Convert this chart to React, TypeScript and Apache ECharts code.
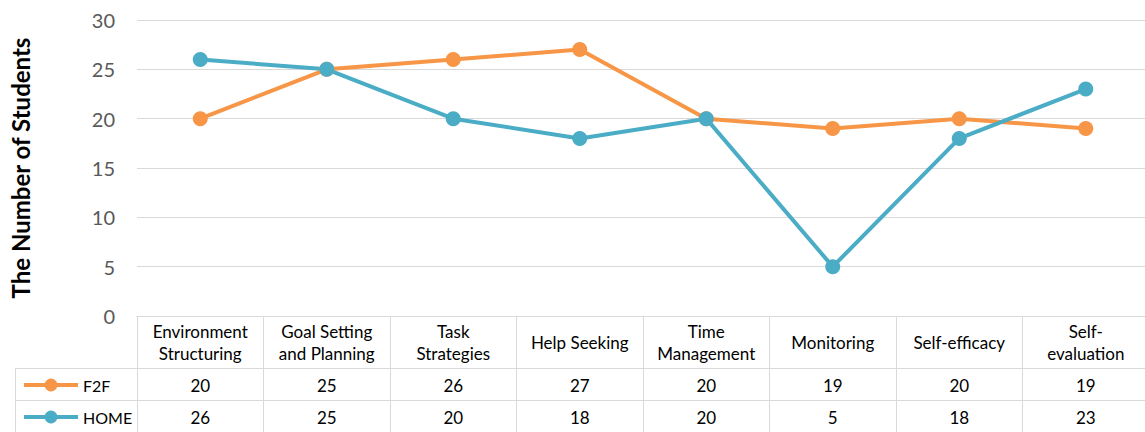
import React, { useEffect, useRef } from "react";
import * as echarts from "echarts";

const categories = [
  "Environment\nStructuring",
  "Goal Setting\nand Planning",
  "Task\nStrategies",
  "Help Seeking",
  "Time\nManagement",
  "Monitoring",
  "Self-efficacy",
  "Self-\nevaluation",
];
const f2f = [20, 25, 26, 27, 20, 19, 20, 19];
const home = [26, 25, 20, 18, 20, 5, 18, 23];
const yTicks = { min: 0, max: 30, interval: 5 };

const ORANGE = "#F79646";
const BLUE = "#4BACC6";
const BORDER = "#D9D9D9";
const FONT = "Lato, 'Open Sans', sans-serif";

export default function App() {
  const ref = useRef<HTMLDivElement>(null);
  useEffect(() => {
    if (!ref.current) return;
    const chart = echarts.init(ref.current, null, { renderer: "svg" });
    const gridLeft = 137;
    const gridTop = 20;
    const gridHeight = 296;
    const colW = 126.5;
    const gridWidth = colW * categories.length;
    const base = {
      type: "category" as const,
      data: categories,
      boundaryGap: true,
      position: "bottom" as const,
      gridIndex: 0,
    };
    chart.setOption({
      animation: false,
      textStyle: { fontFamily: FONT },
      grid: {
        left: gridLeft,
        top: gridTop,
        width: gridWidth,
        height: gridHeight,
        containLabel: false,
        outerBoundsMode: "none",
      },
      legend: {
        orient: "vertical",
        left: 22,
        top: 377,
        padding: 0,
        itemWidth: 54,
        itemHeight: 16,
        itemGap: 16,
        lineStyle: { width: 4 },
        textStyle: { fontSize: 16, color: "#000", fontFamily: FONT },
        data: ["F2F", "HOME"],
      },
      xAxis: [
        {
          ...base,
          axisLine: { show: true, lineStyle: { color: BORDER } },
          axisTick: { show: true, length: 116, lineStyle: { color: BORDER } },
          axisLabel: {
            interval: 0,
            margin: 26,
            verticalAlign: "middle",
            fontSize: 17,
            lineHeight: 22,
            color: "#000",
            fontFamily: FONT,
          },
        },
        {
          ...base,
          axisLine: { show: false },
          axisTick: { show: false },
          axisLabel: {
            interval: 0,
            margin: 69,
            verticalAlign: "middle",
            fontSize: 17,
            color: "#000",
            fontFamily: FONT,
            formatter: (_v: string, i: number) => String(f2f[i]),
          },
        },
        {
          ...base,
          axisLine: { show: false },
          axisTick: { show: false },
          axisLabel: {
            interval: 0,
            margin: 101,
            verticalAlign: "middle",
            fontSize: 17,
            color: "#000",
            fontFamily: FONT,
            formatter: (_v: string, i: number) => String(home[i]),
          },
        },
      ],
      yAxis: {
        type: "value",
        min: yTicks.min,
        max: yTicks.max,
        interval: yTicks.interval,
        axisLine: { show: false },
        axisTick: { show: false },
        splitLine: { lineStyle: { color: BORDER, width: 1 } },
        axisLabel: { fontSize: 20, color: "#595959", margin: 22, fontFamily: FONT },
        name: "The Number of Students",
        nameLocation: "middle",
        nameGap: 105,
        nameTextStyle: { fontSize: 24, fontWeight: "bold", color: "#000", fontFamily: FONT },
      },
      series: [
        {
          name: "F2F",
          type: "line",
          data: f2f,
          color: ORANGE,
          symbol: "circle",
          symbolSize: 15,
          lineStyle: { width: 4, color: ORANGE },
          itemStyle: { color: ORANGE },
        },
        {
          name: "HOME",
          type: "line",
          data: home,
          color: BLUE,
          symbol: "circle",
          symbolSize: 15,
          lineStyle: { width: 4, color: BLUE },
          itemStyle: { color: BLUE },
        },
      ],
      graphic: [
        { type: "line", shape: { x1: 15, y1: 368.5, x2: 1145, y2: 368.5 }, style: { stroke: BORDER, lineWidth: 1 } },
        { type: "line", shape: { x1: 15, y1: 400.5, x2: 1145, y2: 400.5 }, style: { stroke: BORDER, lineWidth: 1 } },
        { type: "line", shape: { x1: 15.5, y1: 368, x2: 15.5, y2: 432 }, style: { stroke: BORDER, lineWidth: 1 } },
      ],
    });
    return () => chart.dispose();
  }, []);
  return (
    <div
      ref={ref}
      style={{ position: "absolute", left: 0, top: 0, width: 1145, height: 432, background: "#fff" }}
    />
  );
}
